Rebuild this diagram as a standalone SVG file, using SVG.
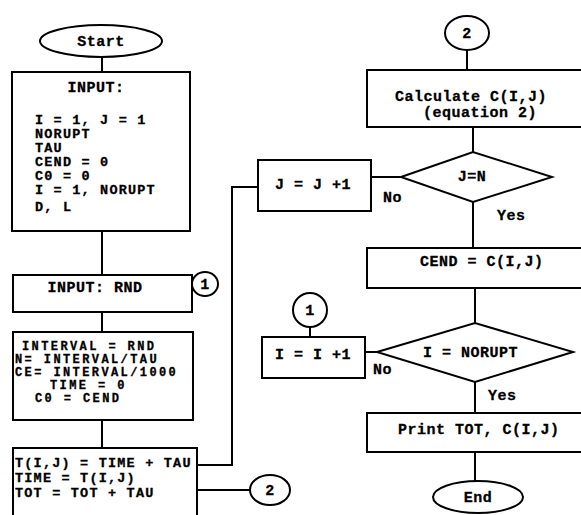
<svg xmlns="http://www.w3.org/2000/svg" width="581" height="515" viewBox="0 0 581 515">
<style>
.s{fill:#fff;stroke:#000;stroke-width:2}
.l{fill:none;stroke:#000;stroke-width:2}
text{font-family:"Liberation Mono","Courier New",monospace;font-weight:bold;font-size:15px;letter-spacing:0.5px;fill:#000;stroke:#000;stroke-width:0.3}
.m{text-anchor:middle}
.a{font-size:13.5px;letter-spacing:1.2px}
.b{font-size:12px;letter-spacing:2.4px}
</style>
<rect width="581" height="515" fill="#fff"/>
<g id="connectors" class="l">
<path d="M102,57V72"/>
<path d="M102,231V275"/>
<path d="M102,312V332"/>
<path d="M102,420V448"/>
<path d="M197,465H232V187H258"/>
<path d="M197,490H250"/>
<path d="M467,50V70"/>
<path d="M473,127V152"/>
<path d="M401,177H371"/>
<path d="M473,202V248"/>
<path d="M475,288V323"/>
<path d="M310,327V337"/>
<path d="M377,352H365"/>
<path d="M475,382V413"/>
<path d="M475,452V482"/>
</g>
<g id="start"><ellipse class="s" cx="101" cy="41" rx="61" ry="16"/><text class="m" x="101" y="46">Start</text></g>
<g id="input1"><rect class="s" x="12" y="72" width="178" height="159"/>
<text class="m" x="96" y="92">INPUT:</text>
<text class="a" x="35" y="124">I = 1, J = 1</text>
<text class="a" x="35" y="138">NORUPT</text>
<text class="a" x="35" y="152">TAU</text>
<text class="a" x="35" y="166">CEND = 0</text>
<text class="a" x="35" y="180">C0 = 0</text>
<text class="a" x="35" y="194">I = 1, NORUPT</text>
<text class="a" x="35" y="211">D, L</text></g>
<g id="input2"><rect class="s" x="13" y="275" width="179" height="37"/><text class="m" x="95" y="292">INPUT: RND</text></g>
<g id="conn1a"><ellipse class="s" cx="205" cy="284" rx="13" ry="12"/><text class="m" x="205" y="289">1</text></g>
<g id="interval"><rect class="s" x="13" y="332" width="180" height="88"/>
<text class="b" x="22" y="350">INTERVAL = RND</text>
<text class="b" x="15" y="363">N= INTERVAL/TAU</text>
<text class="b" x="15" y="376">CE= INTERVAL/1000</text>
<text class="b" x="50" y="389">TIME = 0</text>
<text class="b" x="35" y="402">C0 = CEND</text></g>
<g id="time"><rect class="s" x="13" y="448" width="184" height="80"/>
<text class="a" x="15" y="467">T(I,J) = TIME + TAU</text>
<text class="a" x="15" y="482">TIME = T(I,J)</text>
<text class="a" x="15" y="497">TOT = TOT + TAU</text></g>
<g id="conn2a"><ellipse class="s" cx="270" cy="490" rx="20" ry="15"/><text class="m" x="270" y="495">2</text></g>
<g id="conn2b"><ellipse class="s" cx="467" cy="33" rx="22" ry="17"/><text class="m" x="467" y="38">2</text></g>
<g id="calc"><rect class="s" x="367" y="70" width="220" height="57"/>
<text x="395" y="101">Calculate C(I,J)</text>
<text x="423" y="117">(equation 2)</text></g>
<g id="jn"><polygon class="s" points="401,177 473,152 552,177 473,202"/><text class="m" x="472" y="181">J=N</text></g>
<g id="jj"><rect class="s" x="258" y="160" width="113" height="51"/><text class="m" x="313" y="189">J = J +1</text></g>
<g id="labels">
<text x="383" y="202">No</text>
<text x="497" y="220">Yes</text>
<text x="373" y="374">No</text>
<text x="488" y="400">Yes</text></g>
<g id="cend"><rect class="s" x="367" y="248" width="220" height="40"/><text x="420" y="266">CEND = C(I,J)</text></g>
<g id="inor"><polygon class="s" points="377,352 475,323 573,352 475,382"/><text x="423" y="357">I = NORUPT</text></g>
<g id="ii"><rect class="s" x="262" y="337" width="103" height="41"/><text class="m" x="313" y="359">I = I +1</text></g>
<g id="conn1b"><ellipse class="s" cx="310" cy="310" rx="17" ry="17"/><text class="m" x="310" y="315">1</text></g>
<g id="print"><rect class="s" x="367" y="413" width="220" height="39"/><text x="398" y="434">Print TOT, C(I,J)</text></g>
<g id="end"><ellipse class="s" cx="478" cy="497" rx="45" ry="16"/><text class="m" x="478" y="502">End</text></g>
</svg>
